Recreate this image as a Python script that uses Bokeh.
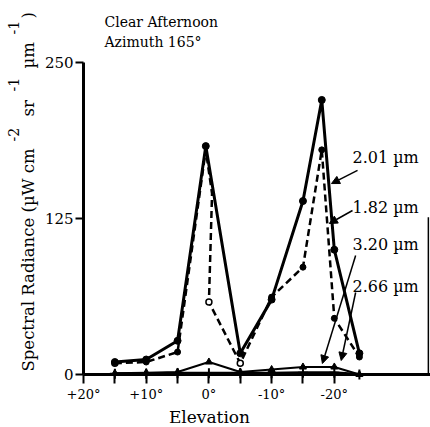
import math
from bokeh.plotting import figure
from bokeh.models import Range1d, FixedTicker, Label, Arrow, NormalHead
from bokeh.embed import file_html
from bokeh.resources import INLINE

# ---------------- data ----------------
elev_201 = [15, 10, 5, 0.5, -5, -10, -15, -18, -20, -24]
rad_201 = [10, 12, 27, 183, 17, 60, 139, 220, 100, 17]

elev_182 = [15, 10, 5, 0.5, -0.5, 0, -5, -10, -15, -18, -20, -24]
rad_182 = [9, 10, 18, 180, 145, 58, 9, 62, 86, 180, 45, 14]
mark_182 = ["open", "filled", "filled", "none", "none", "open", "open",
            "filled", "filled", "filled", "filled", "filled"]

elev_std = [15, 10, 5, 0, -5, -10, -15, -20, -24]
rad_320 = [1, 1.5, 2, 10, 2, 4, 6, 6, 0]
rad_266 = [0.5, 0.5, 1, 1, 1, 1, 1.5, 1.5, 0]

x_ticks = [20, 10, 0, -10, -20]
x_tick_labels = ["+20°", "+10°", "0°", "-10°", "-20°"]
x_minor = [15, 5, -5, -15]
y_ticks = [0, 125, 250]
y_tick_labels = ["0", "125", "250"]

title_lines = ["Clear Afternoon", "Azimuth 165°"]
series_labels = ["2.01 µm", "1.82 µm", "3.20 µm", "2.66 µm"]
x_title = "Elevation"

# annotation arrow positions (elevation, radiance): start -> tip
arrows = [
    (-23.7, 163.5, -19.55, 153.0),
    (-22.9, 131.4, -19.2, 121.0),
    (-23.4, 95.4, -18.1, 8.8),
    (-23.4, 65.7, -21.1, 11.2),
]
right_frame_x = -35.0
right_frame_top = 126

x_axis_start, x_axis_end = 20, -35.34
y_axis_start, y_axis_end = 0, 250

SERIF = "DejaVu Serif"

# the frame fills the whole canvas; axes are placed with fixed_location/bounds
p = figure(width=430, height=427, output_backend="svg", toolbar_location=None,
           x_range=Range1d(33.24, -35.34), y_range=Range1d(-42.47, 299.68),
           min_border=0)
p.outline_line_color = None
p.background_fill_color = "white"
p.border_fill_color = "white"
p.xgrid.visible = False
p.ygrid.visible = False

# x axis
xa = p.xaxis[0]
xa.fixed_location = 0
xa.bounds = (x_axis_end, x_axis_start)
xa.ticker = FixedTicker(ticks=x_ticks, minor_ticks=x_minor)
xa.major_label_overrides = {t: s for t, s in zip(x_ticks, x_tick_labels)}
xa.axis_line_width = 3
xa.axis_line_color = "black"
xa.major_tick_line_width = 2
xa.minor_tick_line_width = 2
xa.major_tick_out = 9
xa.minor_tick_out = 9
xa.major_tick_in = 0
xa.minor_tick_in = 0
xa.major_label_standoff = 4
xa.major_label_text_font = SERIF
xa.major_label_text_font_size = "13px"
xa.major_label_text_color = "black"

# y axis
ya = p.yaxis[0]
ya.fixed_location = x_axis_start
ya.bounds = (y_axis_start, y_axis_end)
ya.ticker = FixedTicker(ticks=y_ticks, minor_ticks=[])
ya.major_label_overrides = {t: s for t, s in zip(y_ticks, y_tick_labels)}
ya.axis_line_width = 3
ya.axis_line_color = "black"
ya.major_tick_line_width = 2
ya.major_tick_out = 8
ya.major_tick_in = 0
ya.minor_tick_out = 0
ya.minor_tick_in = 0
ya.major_label_standoff = 2
ya.major_label_text_font = SERIF
ya.major_label_text_font_size = "15px"
ya.major_label_text_color = "black"

# right-hand frame stub
p.segment(x0=[right_frame_x], y0=[0], x1=[right_frame_x], y1=[right_frame_top],
          line_color="black", line_width=1.5)

# 2.66 um (thick, on the axis)
p.line(elev_std, rad_266, line_color="black", line_width=3)
p.scatter(elev_std, rad_266, marker="cross", size=10, line_color="black",
          line_width=2)

# 3.20 um
p.line(elev_std, rad_320, line_color="black", line_width=2)
p.scatter(elev_std, rad_320, marker="triangle", size=7, line_color="black",
          fill_color="black")

# 1.82 um dashed
p.line(elev_182, rad_182, line_color="black", line_width=2.5, line_dash="7 4")
ox = [x for x, m in zip(elev_182, mark_182) if m == "open"]
oy = [y for y, m in zip(rad_182, mark_182) if m == "open"]
fx = [x for x, m in zip(elev_182, mark_182) if m == "filled"]
fy = [y for y, m in zip(rad_182, mark_182) if m == "filled"]
p.scatter(ox, oy, marker="circle", size=6, line_color="black", line_width=1.5,
          fill_color="white")
p.scatter(fx, fy, marker="circle", size=6, line_color="black", fill_color="black")

# 2.01 um solid
p.line(elev_201, rad_201, line_color="black", line_width=3)
p.scatter(elev_201, rad_201, marker="circle", size=7, line_color="black",
          fill_color="black")

# arrows
for (xs, ys, xe, ye) in arrows:
    p.add_layout(Arrow(end=NormalHead(size=8, fill_color="black",
                                      line_color="black", line_width=1),
                       x_start=xs, y_start=ys, x_end=xe, y_end=ye,
                       line_color="black", line_width=1.5))

# texts placed in screen units (frame == canvas, y up)
def add_text(txt, x, y, size, angle=0.0, align="left"):
    p.add_layout(Label(x=x, y=y, x_units="screen", y_units="screen",
                       text=txt, text_font=SERIF, text_font_size=size,
                       text_color="black", angle=angle, text_align=align,
                       text_baseline="alphabetic"))

lab_y = [270, 220, 183, 141]
for txt, yy in zip(series_labels, lab_y):
    add_text(txt, 352, yy, "16px")

add_text(title_lines[0], 104, 406, "14px")
add_text(title_lines[1], 104, 385.5, "14px")
add_text(x_title, 209, 11, "17px", align="center")

y_pieces = [
    ("Spectral Radiance (µW cm", 28, 56, "16.5px"),
    ("-2", 13, 286, "14px"),
    ("sr", 28, 311, "16.5px"),
    ("-1", 13, 336, "14px"),
    ("µm", 28, 359, "16.5px"),
    ("-1", 13, 393, "14px"),
    (")", 28, 409, "16.5px"),
]
for txt, xx, yy, fs in y_pieces:
    add_text(txt, xx, yy, fs, angle=math.pi / 2)

open("out.html", "w").write(file_html(p, INLINE))
